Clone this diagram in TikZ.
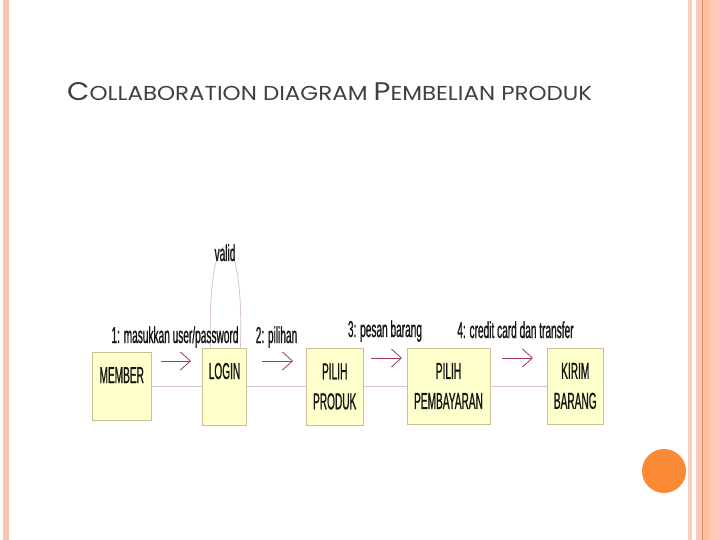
\documentclass[tikz,border=0pt]{standalone}
\usepackage{fontspec}
\usepackage{graphicx}
\usetikzlibrary{arrows.meta}
\newfontfamily\narrowfont[FakeStretch=0.44,FakeBold=0.8]{Liberation Sans}
\newfontfamily\titlefont{Poppins}
\definecolor{stripeL}{HTML}{F7C6B3}
\definecolor{stripeA}{HTML}{F8CFBF}
\definecolor{stripeB}{HTML}{FBC8B3}
\definecolor{stripeD}{HTML}{D98F6C}
\definecolor{stripeC}{HTML}{FFBE9F}
\definecolor{stripeE}{HTML}{FFC8B8}
\definecolor{dotc}{HTML}{FA8A36}
\definecolor{titlec}{HTML}{404040}
\definecolor{boxfill}{HTML}{FFFFCC}
\definecolor{boxline}{HTML}{CCBF98}
\definecolor{connc}{HTML}{D8C2CB}
\definecolor{arrowc}{HTML}{9E3A62}
\definecolor{textc}{HTML}{141414}
\begin{document}
\begin{tikzpicture}[x=1bp,y=-1bp,
  box/.style={draw=boxline, fill=boxfill, line width=0.8bp, inner sep=2bp,
    font=\narrowfont\fontsize{23bp}{30bp}\selectfont, text=textc, align=center},
  lbl/.style={font=\narrowfont\fontsize{23bp}{30bp}\selectfont, text=textc, inner sep=0pt, anchor=base},
  conn/.style={draw=connc, line width=0.8bp},
  msg/.style={draw=arrowc, line width=0.8bp, -{Straight Barb[length=10bp,width=18bp,line width=0.8bp]}}]
\fill[white] (0,0) rectangle (720,540);
\useasboundingbox (0,0) rectangle (720,540);
% decorative stripes
\fill[stripeL] (3,0) rectangle (9,540);
\fill[stripeA] (688,0) rectangle (692,540);
\fill[stripeB] (696,0) rectangle (702,540);
\fill[stripeD] (702,0) rectangle (703.2,540);
\fill[stripeC] (703.2,0) rectangle (709,540);
\fill[stripeE] (709,0) rectangle (720,540);
\fill[dotc] (664,471) circle[radius=22];
% title
\node[anchor=base west, inner sep=0pt, text=titlec] (title) at (67,101)
  {\resizebox{525bp}{18bp}{\titlefont\fontsize{24bp}{24bp}\selectfont C\fontsize{19bp}{24bp}\selectfont OLLABORATION DIAGRAM \fontsize{24bp}{24bp}\selectfont P\fontsize{19bp}{24bp}\selectfont EMBELIAN PRODUK}};
% boxes
\node[box, minimum width=59.5bp, minimum height=68bp, text height=16.5bp, text depth=23.5bp] (member) at (121.75,386.5) {MEMBER};
\node[box, minimum width=44bp, minimum height=77bp, text height=16.5bp, text depth=31.5bp] (login) at (224.5,386.5) {LOGIN};
\node[box, minimum width=57.3bp, minimum height=77bp] (pprod) at (334.7,386.5) {PILIH\\PRODUK};
\node[box, minimum width=83bp, minimum height=76bp] (pbayar) at (448.5,386) {PILIH\\PEMBAYARAN};
\node[box, minimum width=56.5bp, minimum height=76bp] (kirim) at (575.25,386) {KIRIM\\BARANG};
% links
\draw[conn] (member.east |- 0,386.5) -- (login.west |- 0,386.5);
\draw[conn] (login) -- (pprod);
\draw[conn] (pprod.east |- 0,386.5) -- (pbayar.west |- 0,386.5);
\draw[conn] (pbayar.east |- 0,386.5) -- (kirim.west |- 0,386.5);
% self loop
\draw[conn] ([xshift=8.5bp]login.north west) .. controls (206,213) and (245,213) .. ([xshift=-6.5bp]login.north east);
% messages
\coordinate (m1s) at (161,361); \coordinate (m1e) at (191,361);
\coordinate (m2s) at (262,361); \coordinate (m2e) at (293,361);
\coordinate (m3s) at (371,358); \coordinate (m3e) at (402,358);
\coordinate (m4s) at (502,358); \coordinate (m4e) at (533,358);
\draw[msg] (m1s) -- (m1e);
\draw[msg] (m2s) -- (m2e);
\draw[msg] (m3s) -- (m3e);
\draw[msg] (m4s) -- (m4e);
% labels
\node[lbl] (lvalid) at (225,261) {valid};
\node[lbl] (l1) at (175,343) {1: masukkan user/password};
\node[lbl] (l2) at (276.5,343) {2: pilihan};
\node[lbl] (l3) at (385,337) {3: pesan barang};
\node[lbl] (l4) at (515.5,338) {4: credit card dan transfer};
\end{tikzpicture}
\end{document}
